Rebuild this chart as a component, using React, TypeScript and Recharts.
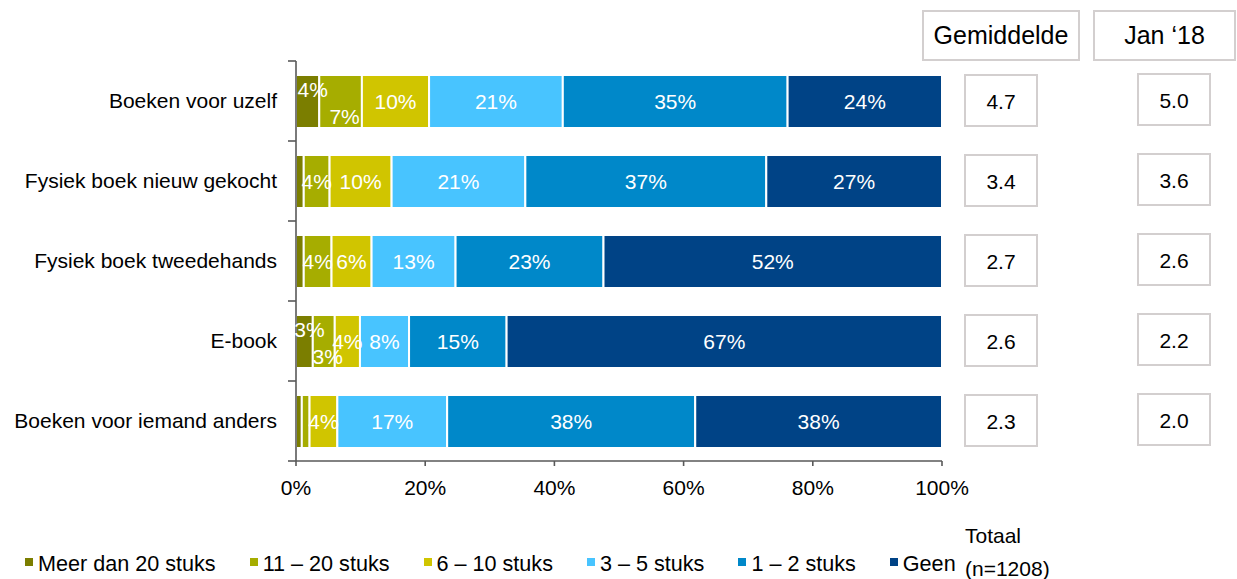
import React from 'react';
import { BarChart, Bar, XAxis, YAxis, LabelList } from 'recharts';

const categories = [
  'Boeken voor uzelf',
  'Fysiek boek nieuw gekocht',
  'Fysiek boek tweedehands',
  'E-book',
  'Boeken voor iemand anders',
];

const seriesNames = ['Meer dan 20 stuks', '11 – 20 stuks', '6 – 10 stuks', '3 – 5 stuks', '1 – 2 stuks', 'Geen'];

const meerDan20 = [3.6, 1.2, 1.2, 2.6, 0.9];
const stuks11tot20 = [6.6, 4.0, 4.3, 3.4, 1.2];
const stuks6tot10 = [10.4, 9.6, 6.2, 3.9, 4.3];
const stuks3tot5 = [20.7, 20.7, 13.0, 7.6, 17.0];
const stuks1tot2 = [34.8, 37.3, 22.9, 15.1, 38.4];
const geen = [23.9, 27.2, 52.4, 67.4, 38.2];

const gemiddelde = ['4.7', '3.4', '2.7', '2.6', '2.3'];
const jan18 = ['5.0', '3.6', '2.6', '2.2', '2.0'];

const xTicks = [0, 20, 40, 60, 80, 100];

const colors = ['#7B7E00', '#A6AD00', '#D0C500', '#48C4FF', '#0088C9', '#004386'];

const seriesValues = [meerDan20, stuks11tot20, stuks6tot10, stuks3tot5, stuks1tot2, geen];
const seriesKeys = seriesNames.map((_, j) => `s${j}`);

const data = categories.map((name, i) => {
  const row: Record<string, any> = { name };
  seriesKeys.forEach((k, j) => {
    row[k] = seriesValues[j][i];
  });
  return row;
});

const FONT = '"Liberation Sans", Arial, sans-serif';
const AXIS = '#595959';
const BOX = '#d3cfcf';

const W = 1237;
const H = 579;
const PLOT_LEFT = 296;
const PLOT_RIGHT = 942;
const PLOT_TOP = 61;
const PLOT_BOTTOM = 461;
const BAND = (PLOT_BOTTOM - PLOT_TOP) / categories.length;

const makeLabel = (sIdx: number) => (props: any) => {
  const vb = props.viewBox || {};
  const x = props.x ?? vb.x;
  const y = props.y ?? vb.y;
  const width = props.width ?? vb.width;
  const height = props.height ?? vb.height;
  const value = Number(props.value);
  if (!isFinite(value) || value < 2 || x == null) return null;
  let dx = 0;
  let dy = 0;
  const idx = props.index;
  if (sIdx === 0) {
    dx = 5;
    dy = -12;
  } else if (sIdx === 1 && idx != null && meerDan20[idx] >= 2) {
    dx = 4;
    dy = 15;
  }
  return (
    <text
      x={x + width / 2 + dx}
      y={y + height / 2 + dy}
      fill="#fff"
      fontSize={21}
      fontFamily={FONT}
      textAnchor="middle"
      dominantBaseline="central"
    >
      {Math.round(value)}%
    </text>
  );
};

const LeftTick = (props: any) => {
  const { x, y, payload } = props;
  const i = payload.index;
  const half = BAND / 2;
  return (
    <g>
      <text x={x - 19} y={y} dy="0.35em" textAnchor="end" fontSize={21} fontFamily={FONT} fill="#000">
        {payload.value}
      </text>
      <line x1={x - 8} x2={x} y1={y - half} y2={y - half} stroke={AXIS} strokeWidth={1.6} />
      {i === categories.length - 1 && (
        <line x1={x - 8} x2={x} y1={y + half} y2={y + half} stroke={AXIS} strokeWidth={1.6} />
      )}
    </g>
  );
};

const RightTick = (props: any) => {
  const { x, y, payload } = props;
  const i = payload.index;
  const bw = 72;
  const bh = 51;
  const c1 = x + 23;
  const c2 = x + 196;
  return (
    <g>
      <rect x={c1} y={y - bh / 2 - 0.5} width={bw} height={bh} fill="#fff" stroke={BOX} strokeWidth={2} />
      <text x={c1 + bw / 2} y={y + 1} dy="0.35em" textAnchor="middle" fontSize={21} fontFamily={FONT} fill="#000">
        {gemiddelde[i]}
      </text>
      <rect x={c2} y={y - bh / 2 - 1.5} width={bw} height={bh} fill="#fff" stroke={BOX} strokeWidth={2} />
      <text x={c2 + bw / 2} y={y} dy="0.35em" textAnchor="middle" fontSize={21} fontFamily={FONT} fill="#000">
        {jan18[i]}
      </text>
    </g>
  );
};

export default function App() {
  return (
    <div style={{ position: 'absolute', left: 0, top: 0, width: W, height: H, background: '#fff', fontFamily: FONT }}>
      <BarChart
        width={W}
        height={H}
        data={data}
        layout="vertical"
        margin={{ top: PLOT_TOP, right: 0, bottom: H - PLOT_BOTTOM - 30, left: 0 }}
        barSize={53}
      >
        <XAxis
          type="number"
          domain={[0, 100]}
          allowDataOverflow
          ticks={xTicks}
          interval={0}
          tickFormatter={(v: number) => `${v}%`}
          height={30}
          axisLine={{ stroke: AXIS, strokeWidth: 1.6 }}
          tickLine={{ stroke: AXIS, strokeWidth: 1.6 }}
          tickSize={5}
          tickMargin={14}
          tick={{ fill: '#000', fontSize: 21, fontFamily: FONT }}
        />
        <YAxis
          type="category"
          dataKey="name"
          width={PLOT_LEFT}
          interval={0}
          axisLine={{ stroke: AXIS, strokeWidth: 1.6 }}
          tickLine={false}
          tickSize={0}
          tickMargin={0}
          tick={<LeftTick />}
        />
        <YAxis
          yAxisId="right"
          orientation="right"
          type="category"
          dataKey="name"
          width={W - PLOT_RIGHT}
          interval={0}
          axisLine={false}
          tickLine={false}
          tickSize={0}
          tickMargin={0}
          tick={<RightTick />}
        />
        {seriesKeys.map((k, j) => (
          <Bar key={k} dataKey={k} name={seriesNames[j]} stackId="a" fill={colors[j]} stroke="#fff" strokeWidth={2} isAnimationActive={false}>
            <LabelList dataKey={k} content={makeLabel(j)} />
          </Bar>
        ))}
      </BarChart>

      <div
        style={{
          position: 'absolute', left: 922, top: 10, width: 158, height: 51, boxSizing: 'border-box',
          border: `2px solid ${BOX}`, display: 'flex', alignItems: 'center', justifyContent: 'center',
          fontSize: 25, color: '#000',
        }}
      >
        Gemiddelde
      </div>
      <div
        style={{
          position: 'absolute', left: 1093, top: 10, width: 143, height: 51, boxSizing: 'border-box',
          border: `2px solid ${BOX}`, display: 'flex', alignItems: 'center', justifyContent: 'center',
          fontSize: 25, color: '#000',
        }}
      >
        Jan ‘18
      </div>

      <div
        style={{
          position: 'absolute', left: 25, top: 550, height: 28, display: 'flex', alignItems: 'center',
          gap: 34, fontSize: 21.6, color: '#000', whiteSpace: 'nowrap',
        }}
      >
        {seriesNames.map((n, j) => (
          <div key={n} style={{ display: 'flex', alignItems: 'center' }}>
            <span style={{ display: 'inline-block', width: 8, height: 8, background: colors[j], marginRight: 5, marginTop: -4 }} />
            <span>{n}</span>
          </div>
        ))}
      </div>

      <div style={{ position: 'absolute', left: 965, top: 519, fontSize: 21, lineHeight: '33px', color: '#000' }}>
        <div>Totaal</div>
        <div>(n=1208)</div>
      </div>
    </div>
  );
}
